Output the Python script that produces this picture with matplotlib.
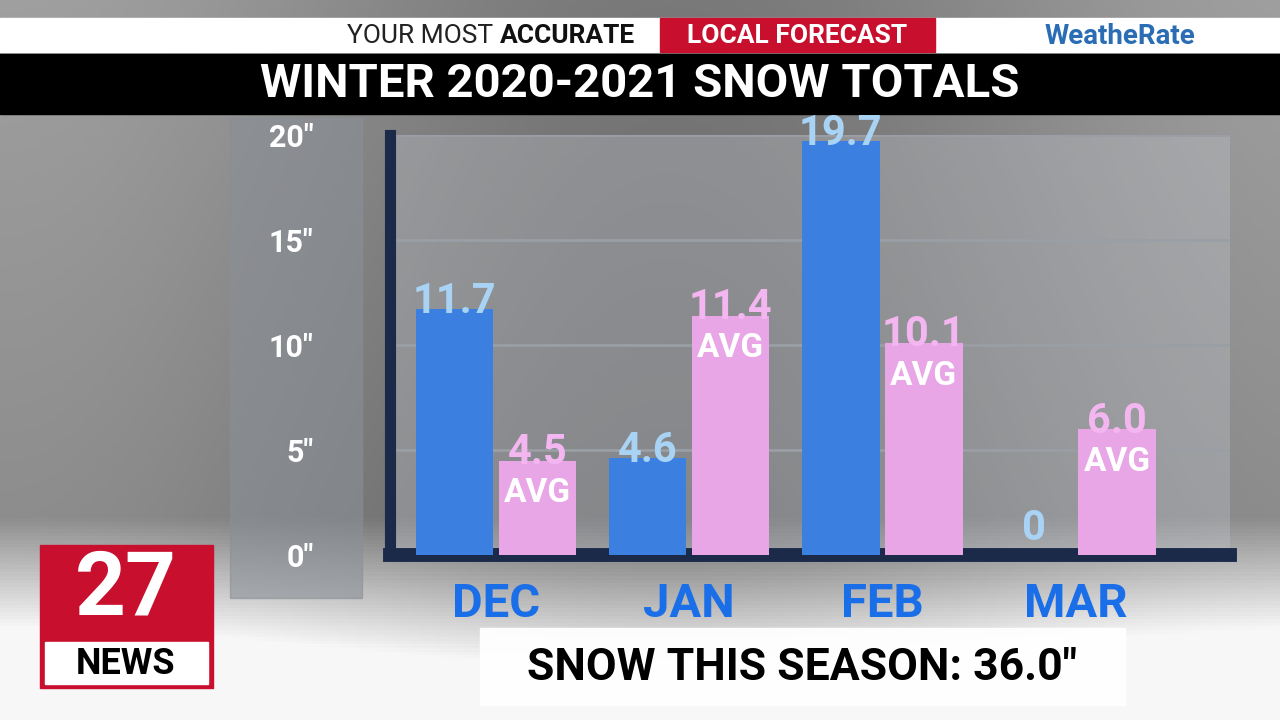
import numpy as np
import matplotlib
matplotlib.use("Agg")
import matplotlib.pyplot as plt
from matplotlib.patches import Rectangle

months = ["DEC", "JAN", "FEB", "MAR"]
snow = [11.7, 4.6, 19.7, 0.0]
avg = [4.5, 11.4, 10.1, 6.0]
yticks = [0, 5, 10, 15, 20]
ytick_labels = ['0"', '5"', '10"', '15"', '20"']
season_total = 36.0

BLUE = "#3b7fe0"; PINK = "#e9a6e6"; LBLUE = "#a9d3f5"; LPINK = "#f3b6f0"
fam = ["Roboto", "DejaVu Sans"]

fig = plt.figure(figsize=(12.8, 7.2), dpi=100)
bg = fig.add_axes([0, 0, 1, 1]); bg.set_axis_off()
yy = np.linspace(0, 1, 200)[:, None]
xx = np.linspace(0, 1, 300)[None, :]
img = 0.45 + 0.15*np.cos(xx*6) * 0.5 + 0.1*yy
img = np.clip(img + np.where(yy < 0.28, (0.28-yy)*2.8, 0), 0, 0.97)
bg.imshow(np.repeat(img[..., None], 3, axis=2), extent=[0, 1, 0, 1], aspect="auto", origin="lower")
bg.set_xlim(0, 1); bg.set_ylim(0, 1)
# banners
bg.add_patch(Rectangle((0, 1-52/720), 1, 34/720, color="white"))
bg.add_patch(Rectangle((660/1280, 1-52/720), 275/1280, 34/720, color="#c8102e"))
bg.text(500/1280, 1-36/720, "YOUR MOST ", ha="right", va="center", fontsize=19, family=fam, color="#222")
bg.text(500/1280, 1-36/720, "ACCURATE", ha="left", va="center", fontsize=19, family=fam, weight="bold", color="#111")
bg.text(797/1280, 1-36/720, "LOCAL FORECAST", ha="center", va="center", fontsize=19, family=fam, weight="bold", color="white")
bg.text(1120/1280, 1-36/720, "WeatheRate", ha="center", va="center", fontsize=20, family=fam, weight="bold", color="#2a6db5")
bg.add_patch(Rectangle((0, 1-114/720), 1, 60/720, color="black"))
bg.text(0.5, 1-84/720, "WINTER 2020-2021 SNOW TOTALS", ha="center", va="center", fontsize=34, family=fam, weight="bold", color="white")
# y column
bg.add_patch(Rectangle((230/1280, 1-598/720), 132/1280, 480/720, color="#8a8f96", alpha=0.6))
# bottom box
bg.add_patch(Rectangle((480/1280, 1-705/720), 645/1280, 77/720, color="white", alpha=0.95))
bg.text(802/1280, 1-668/720, f'SNOW THIS SEASON: {season_total:.1f}"', ha="center", va="center", fontsize=32, family=fam, weight="bold", color="black")
# logo
bg.add_patch(Rectangle((40/1280, 1-688/720), 173/1280, 143/720, color="#c8102e"))
bg.add_patch(Rectangle((45/1280, 1-684/720), 163/1280, 42/720, color="white"))
bg.text(126/1280, 1-590/720, "27", ha="center", va="center", fontsize=64, weight="bold", family=fam, color="white")
bg.text(126/1280, 1-664/720, "NEWS", ha="center", va="center", fontsize=26, weight="bold", family=fam, color="black")

ax = fig.add_axes([390/1280, 165/720, 840/1280, 420/720])
ax.set_facecolor((0.75, 0.77, 0.8, 0.35))
x = np.arange(len(months))
ax.bar(x-0.215, snow, 0.40, color=BLUE, zorder=3)
ax.bar(x+0.215, avg, 0.40, color=PINK, zorder=3)
for i in range(len(months)):
    ax.text(x[i]-0.215, max(snow[i]-0.6, 0.3), f"{snow[i]:g}" if snow[i] == 0 else f"{snow[i]:.1f}", ha="center", va="bottom",
            fontsize=30, weight="bold", family=fam, color=LBLUE, zorder=4)
    ax.text(x[i]+0.215, avg[i]-0.6, f"{avg[i]:.1f}", ha="center", va="bottom",
            fontsize=30, weight="bold", family=fam, color=LPINK, zorder=4)
    ax.text(x[i]+0.215, avg[i]-0.8, "AVG", ha="center", va="top",
            fontsize=24, weight="bold", family=fam, color="white", zorder=4)
    ax.text(x[i], -1.3, months[i], ha="center", va="top", fontsize=34, weight="bold", family=fam, color="#1a6fe8")
ax.set_xlim(-0.55, 3.80); ax.set_ylim(0, 20)
ax.set_yticks(yticks)
ax.set_yticklabels(ytick_labels, fontsize=22, weight="bold", family=fam, color="white")
ax.tick_params(axis="y", length=0, pad=55)
ax.set_xticks([])
ax.grid(axis="y", color="#9a9ea5", lw=2, zorder=1)
for s in ["top", "right"]:
    ax.spines[s].set_visible(False)
ax.spines["left"].set_color("#1c2a4a"); ax.spines["left"].set_linewidth(8)
ax.spines["bottom"].set_color("#1c2a4a"); ax.spines["bottom"].set_linewidth(10)
fig.savefig("out.png", dpi=100)
